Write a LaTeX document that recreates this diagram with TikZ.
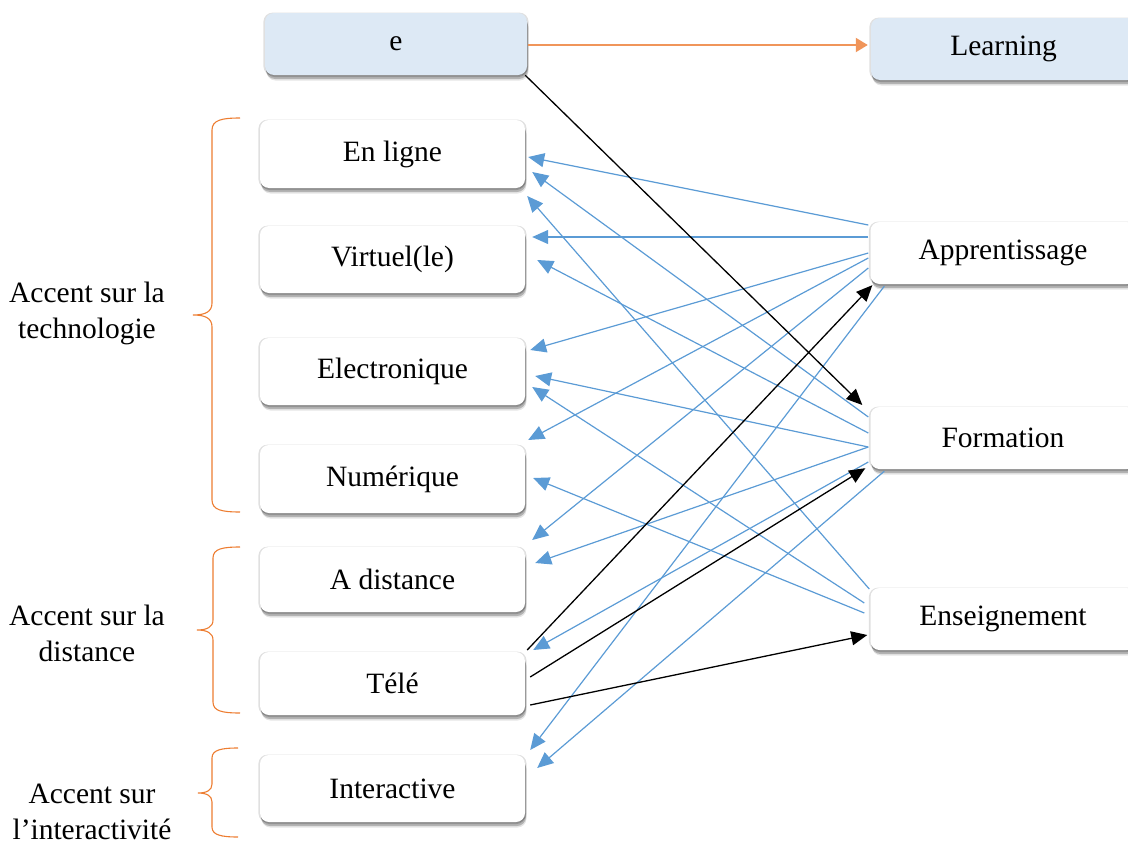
\documentclass[tikz,border=0pt]{standalone}
\usepackage{fontspec}
\setmainfont{Liberation Serif}
\usetikzlibrary{arrows.meta,shadows}
\definecolor{myblue}{HTML}{5B9BD5}
\definecolor{myorange}{HTML}{ED7D31}
\definecolor{arrorange}{HTML}{F0955A}
\definecolor{lightbox}{HTML}{DDE9F5}
\begin{document}
\begin{tikzpicture}[x=1pt,y=-1pt,
  box/.style={fill=white, rounded corners=9pt,
    minimum width=265pt, minimum height=64pt, inner sep=0pt,
    font=\fontsize{29.5}{35}\selectfont,
    general shadow={shadow xshift=0pt, shadow yshift=0pt, shadow scale=1.012, opacity=0.12, fill=black},
    general shadow={shadow xshift=0.5pt, shadow yshift=-2pt, opacity=0.18, fill=black},
    general shadow={shadow xshift=1pt, shadow yshift=-4pt, opacity=0.22, fill=black},
    general shadow={shadow xshift=1.5pt, shadow yshift=-5.5pt, opacity=0.10, fill=black}},
  ebox/.style={box, fill=lightbox},
  lab/.style={align=center, inner sep=0pt, font=\fontsize{29.5}{36}\selectfont},
  bl/.style={myblue, line width=1.2pt, -{Triangle[length=16pt,width=14pt]}},
  bk/.style={black, line width=1.3pt, -{Triangle[length=16pt,width=14pt]}},
  orarrow/.style={arrorange, line width=2pt, -{Triangle[length=12pt,width=14pt]}},
  brace/.style={myorange, line width=1.1pt}
]
\path[use as bounding box] (0,0) rectangle (1128,846);
\clip (0,0) rectangle (1128,846);

% left boxes
\node[ebox, minimum width=262pt, minimum height=62pt] (e) at (396,44) {e};
\node[box, minimum height=68pt] (enl) at (392.5,154) {En ligne};
\node[box, minimum height=67pt] (vir) at (392.5,259.5) {Virtuel(le)};
\node[box, minimum height=67pt] (ele) at (392.5,371.5) {Electronique};
\node[box, minimum height=68pt] (num) at (392.5,479) {Numérique};
\node[box, minimum height=65pt] (dis) at (392.5,579.5) {A distance};
\node[box, minimum height=63pt] (tel) at (392.5,683.5) {Télé};
\node[box, minimum height=67pt] (int) at (392.5,788.5) {Interactive};

% right boxes
\node[ebox, minimum height=62pt] (lea) at (1003.5,49) {Learning};
\node[box, minimum height=62pt] (app) at (1003,253) {Apprentissage};
\node[box, minimum height=62pt] (for) at (1003,438) {Formation};
\node[box, minimum height=62pt] (ens) at (1003,619) {Enseignement};

% blue connectors
\draw[bl] ([shift={(-2,-28)}]app.west) -- ([shift={(3,3)}]enl.east);
\draw[bl] ([shift={(-2,-16)}]app.west) -- ([shift={(7,-22.5)}]vir.east);
\draw[bl] ([shift={(-2,0)}]app.west) -- ([shift={(5,-21.5)}]ele.east);
\draw[bl] ([shift={(-2,5)}]app.west) -- ([shift={(3,-39)}]num.east);
\draw[bl] ([shift={(-2,15)}]app.west) -- ([shift={(7,-39.5)}]dis.east);
\draw[bl] ([shift={(14,2)}]app.south west) -- ([shift={(5,-38.5)}]int.east);
\draw[bl] ([shift={(-2,-21)}]for.west) -- ([shift={(7,18)}]enl.east);
\draw[bl] ([shift={(-2,-5)}]for.west) -- ([shift={(12,0.5)}]vir.east);
\draw[bl] ([shift={(-2,9)}]for.west) -- ([shift={(10,4.5)}]ele.east);
\draw[bl] ([shift={(-2,9)}]for.west) -- ([shift={(10,-16.5)}]dis.east);
\draw[bl] ([shift={(-2,24)}]for.west) -- ([shift={(8,-33.5)}]tel.east);
\draw[bl] ([shift={(14,2)}]for.south west) -- ([shift={(12,-20.5)}]int.east);
\draw[bl] ([shift={(-1,-30)}]ens.west) -- ([shift={(2,42)}]enl.east);
\draw[bl] ([shift={(-6,-16)}]ens.west) -- ([shift={(7,15.5)}]ele.east);
\draw[bl] ([shift={(-6,-6)}]ens.west) -- ([shift={(8,-1)}]num.east);

% black connectors
\draw[bk] ([shift={(-2,0)}]e.south east) -- ([shift={(-8,-33)}]for.west);
\draw[bk] ([shift={(2,-33.5)}]tel.east) -- ([shift={(2,1)}]app.south west);
\draw[bk] ([shift={(5,-6.5)}]tel.east) -- ([shift={(-5,-1)}]for.south west);
\draw[bk] ([shift={(5,21.5)}]tel.east) -- ([shift={(-3,16)}]ens.west);

% orange connector
\draw[orarrow] ([shift={(1,1)}]e.east) -- ([shift={(-3,-4)}]lea.west);

% braces
\draw[brace] (240,118) .. controls (222,118) and (212,120) .. (212,130) -- (212,303)
  .. controls (212,312) and (205,315) .. (193,315)
  .. controls (205,315) and (212,318) .. (212,327) -- (212,500)
  .. controls (212,510) and (222,512) .. (240,512);
\draw[brace] (240,547) .. controls (222,547) and (213,549) .. (213,558) -- (213,620)
  .. controls (213,627) and (207,630) .. (197,630)
  .. controls (207,630) and (213,633) .. (213,640) -- (213,702)
  .. controls (213,711) and (222,713) .. (240,713);
\draw[brace] (238,748) .. controls (221,748) and (212,750) .. (212,758) -- (212,784)
  .. controls (212,790) and (207,793) .. (198,793)
  .. controls (207,793) and (212,796) .. (212,802) -- (212,827)
  .. controls (212,835) and (221,837) .. (238,837);

% labels
\node[lab] (t1) at (87,313) {Accent sur la\\technologie};
\node[lab] (t2) at (87,633) {Accent sur la\\distance};
\node[lab] (t3) at (92,812) {Accent sur\\l’interactivité};
\end{tikzpicture}
\end{document}
